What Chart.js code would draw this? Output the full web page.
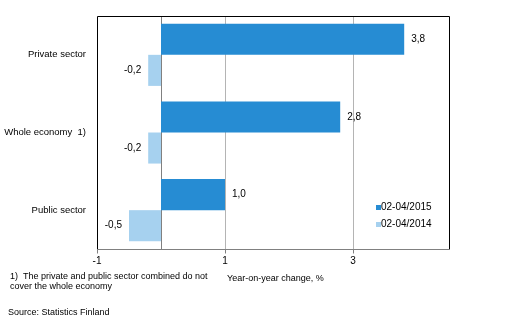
<!DOCTYPE html>
<html>
<head>
<meta charset="utf-8">
<script src="https://cdn.jsdelivr.net/npm/chart.js@4"></script>
<style>
  html, body { margin: 0; padding: 0; background: #fff; }
  #wrap { position: relative; width: 515px; height: 322px; }
</style>
</head>
<body>
<div id="wrap"><canvas id="chart" width="515" height="322"></canvas></div>
<script>
// Sectors and year-on-year change (%)
const sectors = ['Private sector', 'Whole economy  1)', 'Public sector'];
const change2015 = [3.8, 2.8, 1.0];
const change2014 = [-0.2, -0.2, -0.5];
const seriesNames = ['02-04/2015', '02-04/2014'];
const xTicks = [-1, 1, 3];

const FONT = '"Liberation Sans", Arial, sans-serif';
const DARK = '#268cd3';
const LIGHT = '#a6d1ef';

const fmt = v => v.toFixed(1).replace('.', ',');

// value labels beside each bar end
const barLabels = {
  id: 'barLabels',
  afterDatasetsDraw(chart) {
    const ctx = chart.ctx;
    ctx.save();
    ctx.font = '10px ' + FONT;
    ctx.fillStyle = '#000';
    ctx.textBaseline = 'middle';
    chart.data.datasets.forEach((ds, i) => {
      chart.getDatasetMeta(i).data.forEach((bar, j) => {
        const v = ds.data[j];
        if (v >= 0) {
          ctx.textAlign = 'left';
          ctx.fillText(fmt(v), bar.x + 7, bar.y);
        } else {
          ctx.textAlign = 'right';
          ctx.fillText(fmt(v), bar.x - 7, bar.y);
        }
      });
    });
    ctx.restore();
  }
};

// frame, zero line, legend and footnotes
const decorations = {
  id: 'decorations',
  beforeDatasetsDraw(chart) {
    const { ctx, chartArea: a, scales: { x } } = chart;
    ctx.save();
    // zero line
    const zx = Math.round(x.getPixelForValue(0)) + 0.5;
    ctx.strokeStyle = '#808080';
    ctx.lineWidth = 1;
    ctx.beginPath();
    ctx.moveTo(zx, a.top);
    ctx.lineTo(zx, a.bottom);
    ctx.stroke();
    ctx.restore();
  },
  afterDraw(chart) {
    const { ctx, chartArea: a, scales: { x } } = chart;
    ctx.save();
    const L = Math.round(a.left) + 0.5, R = Math.round(a.right) + 0.5;
    const T = Math.round(a.top) + 0.5, B = Math.round(a.bottom) + 0.5;
    // black frame on left, top and right
    ctx.strokeStyle = '#000';
    ctx.lineWidth = 1;
    ctx.beginPath();
    ctx.moveTo(L, B);
    ctx.lineTo(L, T);
    ctx.lineTo(R, T);
    ctx.lineTo(R, B);
    ctx.stroke();
    // bottom axis line with tick marks
    ctx.strokeStyle = '#808080';
    ctx.beginPath();
    ctx.moveTo(L, B);
    ctx.lineTo(R, B);
    xTicks.forEach(t => {
      const px = Math.round(x.getPixelForValue(t)) + 0.5;
      ctx.moveTo(px, B);
      ctx.lineTo(px, B + 4);
    });
    ctx.stroke();

    // legend inside plot area
    ctx.font = '10px ' + FONT;
    ctx.textBaseline = 'middle';
    ctx.textAlign = 'left';
    const colors = [DARK, LIGHT];
    seriesNames.forEach((name, i) => {
      const y = 207 + i * 17;
      ctx.fillStyle = colors[i];
      ctx.fillRect(376, y - 2, 5, 5);
      ctx.fillStyle = '#000';
      ctx.fillText(name, 381, y);
    });

    // axis title and footnotes
    ctx.font = '9px ' + FONT;
    ctx.textBaseline = 'alphabetic';
    ctx.fillText('Year-on-year change, %', 227, 281);
    ctx.fillText('1)  The private and public sector combined do not', 10, 279);
    ctx.fillText('cover the whole economy', 10, 289);
    ctx.fillText('Source: Statistics Finland', 8, 315);
    ctx.restore();
  }
};

new Chart(document.getElementById('chart'), {
  type: 'bar',
  data: {
    labels: sectors,
    datasets: [
      { label: seriesNames[0], data: change2015, backgroundColor: DARK },
      { label: seriesNames[1], data: change2014, backgroundColor: LIGHT }
    ]
  },
  options: {
    indexAxis: 'y',
    responsive: false,
    animation: false,
    maintainAspectRatio: false,
    layout: { padding: { top: 16, right: 66, left: 0, bottom: 0 } },
    datasets: { bar: { categoryPercentage: 0.8, barPercentage: 1.0 } },
    plugins: {
      legend: { display: false },
      tooltip: { enabled: false }
    },
    scales: {
      x: {
        min: -1,
        max: 4.5,
        afterBuildTicks(axis) {
          axis.ticks = xTicks.map(v => ({ value: v }));
        },
        afterFit(axis) { axis.height = 73; },
        border: { display: false },
        grid: {
          drawTicks: false,
          color: ctx => (ctx.tick && ctx.tick.value > -1) ? '#b4b4b4' : 'rgba(0,0,0,0)'
        },
        ticks: {
          padding: 6,
          color: '#000',
          font: { family: FONT, size: 10 },
          maxRotation: 0
        }
      },
      y: {
        afterFit(axis) { axis.width = 97; },
        border: { display: false },
        grid: { display: false },
        ticks: {
          padding: 3,
          color: '#000',
          font: { family: FONT, size: 9.5 }
        }
      }
    }
  },
  plugins: [barLabels, decorations]
});
</script>
</body>
</html>
